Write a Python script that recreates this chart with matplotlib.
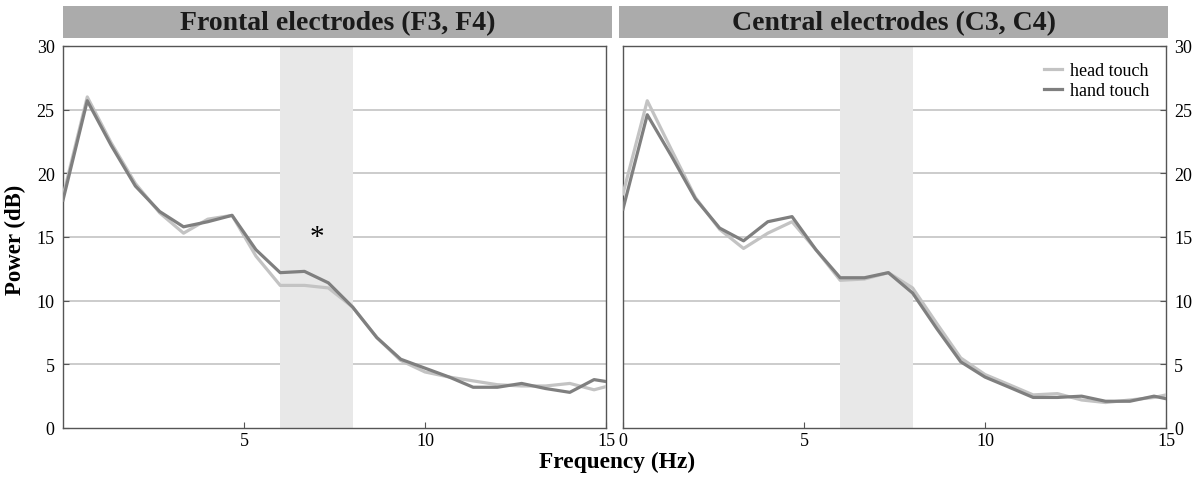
import matplotlib
matplotlib.use("Agg")
from matplotlib import pyplot as plt
from matplotlib.patches import Rectangle

plt.rcParams["font.family"] = ["Liberation Serif", "DejaVu Serif"]

freqs = [0.0, 0.67, 1.33, 2.0, 2.67, 3.33, 4.0, 4.67, 5.33, 6.0, 6.67, 7.33,
         8.0, 8.67, 9.33, 10.0, 10.67, 11.33, 12.0, 12.67, 13.33, 14.0, 14.67, 15.33]

frontal_head = [18.2, 26.0, 22.4, 19.2, 16.9, 15.3, 16.4, 16.7, 13.5, 11.2, 11.2, 11.0,
                9.5, 7.1, 5.3, 4.4, 4.0, 3.7, 3.4, 3.3, 3.3, 3.5, 3.0, 3.5]
frontal_hand = [17.9, 25.7, 22.2, 19.0, 17.0, 15.8, 16.2, 16.7, 14.0, 12.2, 12.3, 11.4,
                9.5, 7.1, 5.4, 4.7, 4.0, 3.2, 3.2, 3.5, 3.1, 2.8, 3.8, 3.5]
central_head = [18.4, 25.7, 21.9, 18.1, 15.6, 14.1, 15.3, 16.2, 14.0, 11.6, 11.7, 12.2,
                11.0, 8.2, 5.5, 4.2, 3.4, 2.6, 2.7, 2.2, 2.0, 2.2, 2.4, 2.8]
central_hand = [17.2, 24.6, 21.4, 18.0, 15.7, 14.7, 16.2, 16.6, 14.0, 11.8, 11.8, 12.2,
                10.6, 7.8, 5.2, 4.0, 3.2, 2.4, 2.4, 2.5, 2.1, 2.1, 2.5, 2.1]

titles = ["Frontal electrodes (F3, F4)", "Central electrodes (C3, C4)"]
band = (6, 8)
yticks = [0, 5, 10, 15, 20, 25, 30]

W, H = 1200, 481
fig = plt.figure(figsize=(12, 4.81), dpi=100)


def fx(px):
    return px / W


def fy(py):
    return 1 - py / H


light = "#c3c3c3"
dark = "#7f7f7f"

panels = [
    (63, 606, 63, 612, frontal_head, frontal_hand, [5, 10, 15], "left"),
    (623, 1166, 619, 1168, central_head, central_hand, [0, 5, 10, 15], "right"),
]

axes = []
for i, (x0, x1, b0, b1, head, hand, xt, side) in enumerate(panels):
    ax = fig.add_axes([fx(x0), fy(429), fx(x1 - x0), (429 - 47) / H])
    ax.set_xlim(0, 15)
    ax.set_ylim(0, 30)
    ax.set_yticks(yticks)
    ax.set_xticks(xt)
    for yv in yticks[1:-1]:
        ax.axhline(yv, color="#c8c8c8", lw=1.3, zorder=1)
    ax.axvspan(band[0], band[1], color="#e8e8e8", lw=0, zorder=2)
    ax.plot(freqs, head, color=light, lw=2.3, zorder=3, label="head touch")
    ax.plot(freqs, hand, color=dark, lw=2.3, zorder=4, label="hand touch")
    ax.tick_params(direction="in", length=4, width=0.8, color="#555555",
                   labelsize=13, pad=3)
    ax.tick_params(axis="y", pad=6)
    if side == "right":
        ax.yaxis.tick_right()
    for sp in ax.spines.values():
        sp.set_color("#555555")
        sp.set_linewidth(1.0)
    fig.patches.append(Rectangle((fx(b0), fy(39)), fx(b1 - b0), (39 - 7) / H,
                                 transform=fig.transFigure, facecolor="#ababab",
                                 edgecolor="none"))
    fig.text(fx((b0 + b1) / 2), fy(24), titles[i], ha="center", va="center",
             fontsize=20, fontweight="bold", color="#1a1a1a")
    axes.append(ax)

axes[0].text(7, 15, "*", ha="center", va="center", fontsize=21, zorder=5)

leg = axes[1].legend(loc="upper right", frameon=False, fontsize=13,
                     handlelength=1.0, handletextpad=0.45, labelspacing=0.15,
                     borderaxespad=0.5)

fig.text(fx(15), fy(240), "Power (dB)", rotation=90, ha="center", va="center",
         fontsize=16.5, fontweight="bold")
fig.text(fx(617), fy(462), "Frequency (Hz)", ha="center", va="center",
         fontsize=16.8, fontweight="bold")

fig.savefig("out.png", dpi=100)
